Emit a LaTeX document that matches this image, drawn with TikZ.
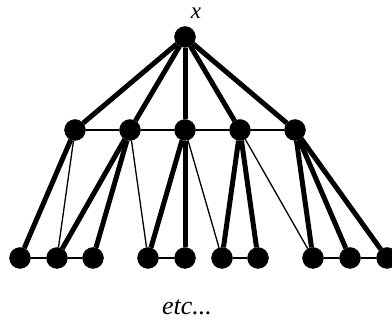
\documentclass[tikz,border=0pt]{standalone}
\usepackage{fontspec}
\setmainfont{Liberation Serif}
\usetikzlibrary{positioning}

\begin{document}
\begin{tikzpicture}[x=1pt, y=1pt,
    vert/.style={draw, fill=black, circle, inner sep=0pt, minimum size=21pt},
    tree/.style={line width=5pt},
    link/.style={line width=1.3pt}]
  \useasboundingbox (0,0) rectangle (392,320);
  % ---- the root ----
  \node[vert] (root) at (185,283) {};
  \node[font=\fontsize{23}{27}\selectfont\itshape] (xlab) at (196,307) {x};
  % ---- middle row ----
  \node[vert] (m1) at (75,190)  {};
  \node[vert] (m2) at (130,190) {};
  \node[vert] (m3) at (185,190) {};
  \node[vert] (m4) at (240,190) {};
  \node[vert] (m5) at (295,190) {};
  % ---- bottom row ----
  \node[vert] (b1)  at (20,62)  {};
  \node[vert] (b2)  at (57,62)  {};
  \node[vert] (b3)  at (93,62)  {};
  \node[vert] (b4)  at (148,62) {};
  \node[vert] (b5)  at (185,62) {};
  \node[vert] (b6)  at (222,62) {};
  \node[vert] (b7)  at (258,62) {};
  \node[vert] (b8)  at (313,62) {};
  \node[vert] (b9)  at (350,62) {};
  \node[vert] (b10) at (387,62) {};
  % ---- tree edges ----
  \draw[tree] (root) -- (m1);
  \draw[tree] (root) -- (m2);
  \draw[tree] (root) -- (m3);
  \draw[tree] (root) -- (m4);
  \draw[tree] (root) -- (m5);
  \draw[tree] (m1) -- (b1);
  \draw[tree] (m2) -- (b2);
  \draw[tree] (m2) -- (b3);
  \draw[tree] (m3) -- (b4);
  \draw[tree] (m3) -- (b5);
  \draw[tree] (m4) -- (b6);
  \draw[tree] (m4) -- (b7);
  \draw[tree] (m5) -- (b8);
  \draw[tree] (m5) -- (b9);
  \draw[tree] (m5) -- (b10);
  % ---- extra links ----
  \draw[link] (m1) -- (m2) -- (m3) -- (m4) -- (m5);
  \draw[link] (m1) -- (b2);
  \draw[link] (m2) -- (b4);
  \draw[link] (m3) -- (b6);
  \draw[link] (m4) -- (b8);
  \draw[link] (b1) -- (b2) -- (b3);
  \draw[link] (b4) -- (b5);
  \draw[link] (b6) -- (b7);
  \draw[link] (b8) -- (b9) -- (b10);
  \node[font=\fontsize{26}{30}\selectfont\itshape] (etc) at (187,13) {etc...};
\end{tikzpicture}
\end{document}
